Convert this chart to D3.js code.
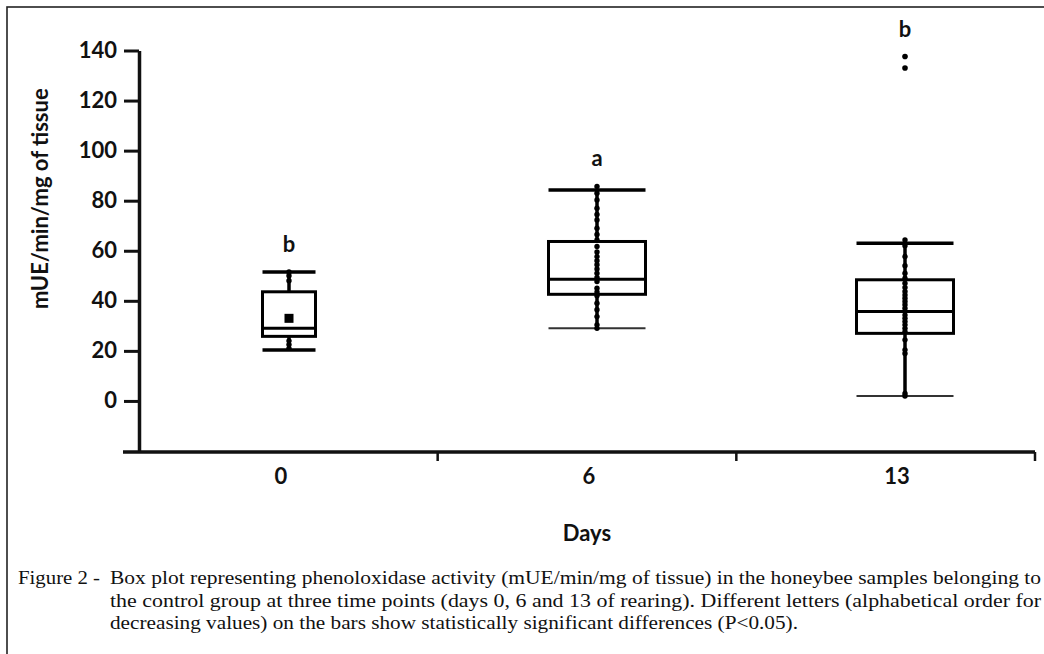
<!DOCTYPE html>
<html>
<head>
<meta charset="utf-8">
<script src="https://cdn.jsdelivr.net/npm/d3@7"></script>
<style>
  body { margin: 0; background: #fff; }
  svg { display: block; }
</style>
</head>
<body>
<svg id="chart" width="1044" height="654"></svg>
<script>
// values
const days = ["0", "6", "13"];
const mins = [20.3, 29, 2];
const q1s = [25.8, 42.6, 27];
const medians = [29, 48.6, 35.7];
const q3s = [43.6, 63.7, 48.4];
const maxs = [51.5, 84.3, 63];
const means = [33, null, null];
const letters = ["b", "a", "b"];
const points = [
  [51.5, 50, 48, 24, 22.5, 21],
  [85.7, 83, 80.3, 77, 74.5, 72.3, 69, 66.5, 64.3, 61.7, 59.5, 57.7, 56, 54.4, 52.7, 51, 49.3, 47.7, 45, 43.5, 42, 39, 36.4, 33.7, 30.4, 29],
  [64.3, 62, 57.7, 54, 51, 49, 47, 45.3, 43.7, 42.3, 41, 39.7, 38.4, 37, 35.7, 34.3, 33, 31.7, 30.4, 29, 27.7, 24.4, 20.4, 19, 3, 2],
];
const outliers = [[], [], [137.6, 133]];
const yTicks = [0, 20, 40, 60, 80, 100, 120, 140];
const yLabel = "mUE/min/mg of tissue";
const xLabel = "Days";
const captionPrefix = "Figure 2 -";
const captionLines = [
  "Box plot representing phenoloxidase activity (mUE/min/mg of tissue) in the honeybee samples belonging to",
  "the control group at three time points (days 0, 6 and 13 of rearing). Different letters (alphabetical order for",
  "decreasing values) on the bars show statistically significant differences (P<0.05).",
];

const groups = days.map((day, i) => ({
  day, min: mins[i], q1: q1s[i], median: medians[i], q3: q3s[i], max: maxs[i],
  mean: means[i], letter: letters[i], points: points[i], outliers: outliers[i],
}));

const svg = d3.select("#chart");
const sans = "Lato, 'Open Sans', sans-serif";

const y = d3.scaleLinear([-20.4, 140], [452, 50.5]);
const xBand = d3.scaleBand(days, [139, 1035]);
const xBox = d3.scalePoint(days, [289, 905]);
const boxWidth = (d) => (d.day === "0" ? 53 : 97);

// outer frame (cropped on right/bottom in the original)
svg.append("rect")
  .attr("x", 7).attr("y", 7).attr("width", 1070).attr("height", 680)
  .attr("fill", "none").attr("stroke", "#222").attr("stroke-width", 1.6);

// y axis
const yAxis = svg.append("g")
  .attr("transform", "translate(139,0)")
  .call(d3.axisLeft(y).tickValues(yTicks).tickSize(15).tickSizeOuter(0).tickPadding(7));
yAxis.select(".domain").attr("stroke", "#111").attr("stroke-width", 3.5);
yAxis.selectAll(".tick line").attr("stroke", "#111").attr("stroke-width", 3);
yAxis.selectAll(".tick text")
  .attr("font-family", sans).attr("font-weight", "bold").attr("font-size", 22).attr("fill", "#111");

svg.append("text")
  .attr("transform", `translate(48,${(y(0) + y(140)) / 2 - 27}) rotate(-90)`)
  .attr("text-anchor", "middle")
  .attr("font-family", sans).attr("font-weight", "bold").attr("font-size", 22).attr("fill", "#111")
  .text(yLabel);

// x axis: line, ticks at band edges, labels under the boxes
const x0 = y.range()[0];
svg.append("line")
  .attr("x1", 139 - 16).attr("x2", xBand.range()[1])
  .attr("y1", x0).attr("y2", x0)
  .attr("stroke", "#111").attr("stroke-width", 3.5);
svg.selectAll("line.xtick").data(days).join("line").attr("class", "xtick")
  .attr("x1", (d) => xBand(d) + xBand.bandwidth()).attr("x2", (d) => xBand(d) + xBand.bandwidth())
  .attr("y1", x0).attr("y2", x0 + 9)
  .attr("stroke", "#111").attr("stroke-width", 2.5);
svg.selectAll("text.xlab").data(days).join("text").attr("class", "xlab")
  .attr("x", (d) => xBox(d) - 8).attr("y", x0 + 32)
  .attr("text-anchor", "middle")
  .attr("font-family", sans).attr("font-weight", "bold").attr("font-size", 22).attr("fill", "#111")
  .text((d) => d);
svg.append("text")
  .attr("x", d3.mean(xBand.range())).attr("y", 541)
  .attr("text-anchor", "middle")
  .attr("font-family", sans).attr("font-weight", "bold").attr("font-size", 22).attr("fill", "#111")
  .text(xLabel);

// boxes
const g = svg.selectAll("g.box").data(groups).join("g").attr("class", "box")
  .attr("transform", (d) => `translate(${xBox(d.day)},0)`);

g.append("line").attr("class", "whisker-lo")
  .attr("y1", (d) => y(d.min)).attr("y2", (d) => y(d.q1))
  .attr("stroke", "#000").attr("stroke-width", 3.5);
g.append("line").attr("class", "whisker-hi")
  .attr("y1", (d) => y(d.q3)).attr("y2", (d) => y(d.max))
  .attr("stroke", "#000").attr("stroke-width", 3.5);
g.append("rect")
  .attr("x", (d) => -boxWidth(d) / 2).attr("width", boxWidth)
  .attr("y", (d) => y(d.q3)).attr("height", (d) => y(d.q1) - y(d.q3))
  .attr("fill", "none").attr("stroke", "#000").attr("stroke-width", 3);
g.append("line").attr("class", "median")
  .attr("x1", (d) => -boxWidth(d) / 2).attr("x2", (d) => boxWidth(d) / 2)
  .attr("y1", (d) => y(d.median)).attr("y2", (d) => y(d.median))
  .attr("stroke", "#000").attr("stroke-width", 3);
g.append("line").attr("class", "cap-hi")
  .attr("x1", (d) => -boxWidth(d) / 2).attr("x2", (d) => boxWidth(d) / 2)
  .attr("y1", (d) => y(d.max)).attr("y2", (d) => y(d.max))
  .attr("stroke", "#000").attr("stroke-width", 3.5);
g.append("line").attr("class", "cap-lo")
  .attr("x1", (d) => -boxWidth(d) / 2).attr("x2", (d) => boxWidth(d) / 2)
  .attr("y1", (d) => y(d.min)).attr("y2", (d) => y(d.min))
  .attr("stroke", (d) => (d.day === "0" ? "#000" : "#333"))
  .attr("stroke-width", (d) => (d.day === "0" ? 3.5 : 2));

g.selectAll("circle.pt").data((d) => d.points).join("circle").attr("class", "pt")
  .attr("cy", (v) => y(v)).attr("r", 2.7).attr("fill", "#000");
g.selectAll("circle.out").data((d) => d.outliers).join("circle").attr("class", "out")
  .attr("cy", (v) => y(v)).attr("r", 2.8).attr("fill", "#000");
g.filter((d) => d.mean != null).append("rect")
  .attr("x", -4.5).attr("width", 9).attr("height", 9)
  .attr("y", (d) => y(d.mean) - 4.5).attr("fill", "#000");

g.append("text")
  .attr("y", (d) => y(d3.max([d.max, ...d.points, ...d.outliers])) - 20)
  .attr("text-anchor", "middle")
  .attr("font-family", sans).attr("font-weight", "bold").attr("font-size", 22).attr("fill", "#111")
  .text((d) => d.letter);

// caption
const serif = "'Liberation Serif', 'Times New Roman', serif";
const capX = 110, capEnd = 1041, capY = [584, 607, 629];
const capWidths = [capEnd - capX, capEnd - capX, 688];
svg.append("text")
  .attr("x", 18).attr("y", capY[0])
  .attr("font-family", serif).attr("font-size", 19.5).attr("fill", "#111")
  .attr("textLength", 82).attr("lengthAdjust", "spacingAndGlyphs")
  .text(captionPrefix);
svg.selectAll("text.cap").data(captionLines).join("text").attr("class", "cap")
  .attr("x", capX).attr("y", (d, i) => capY[i])
  .attr("font-family", serif).attr("font-size", 19.5).attr("fill", "#111")
  .attr("textLength", (d, i) => capWidths[i]).attr("lengthAdjust", "spacingAndGlyphs")
  .text((d) => d);
</script>
</body>
</html>
